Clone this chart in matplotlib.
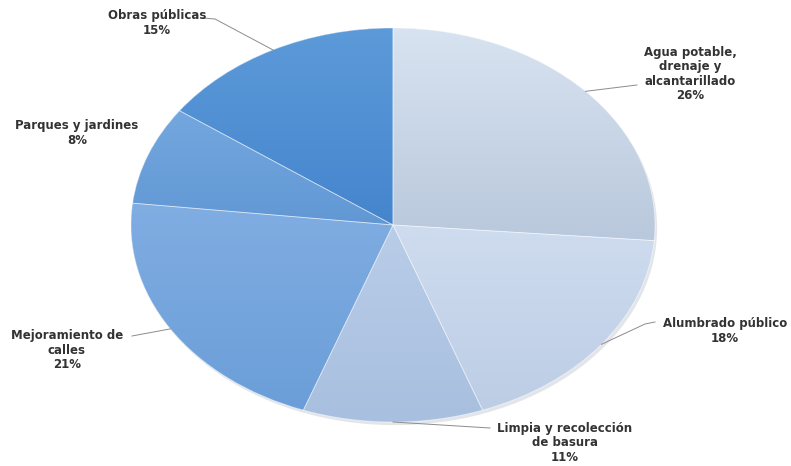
import numpy as np
import matplotlib
matplotlib.use("Agg")
import matplotlib.pyplot as plt
from matplotlib.colors import to_rgb

# ---- data ----
categories = ["Agua potable,\ndrenaje y\nalcantarillado", "Alumbrado público",
              "Limpia y recolección\nde basura", "Mejoramiento de\ncalles",
              "Parques y jardines", "Obras públicas"]
values = [26, 18, 11, 21, 8, 15]
pct_labels = ["26%", "18%", "11%", "21%", "8%", "15%"]

# gradient colours (top, bottom) per slice
col_top = ["#d8e3f1", "#cfdcef", "#b9cde8", "#80ade2", "#74a7df", "#5c9ad9"]
col_bot = ["#b9c8dc", "#bccde5", "#a8bfdf", "#6b9ed8", "#6198d4", "#4585cd"]

# label positions in pixel coords (x from left, y from top)
label_px = [(690, 74), (725, 331), (565, 443), (67, 350), (77, 133), (157, 23)]
elbow_px = [(637, 85), (645, 324), (490, 428), (132, 336), None, (215, 19)]
end_px = [(637, 85), (655, 322), (490, 428), (132, 336), None, (203, 18)]

W, H = 791, 466
fig = plt.figure(figsize=(W / 100, H / 100), dpi=100)
ax = fig.add_axes([0, 0, 1, 1])

cx, cy = 393, 225   # pixel centre
rx, ry = 262, 197   # pixel radii

wedges, _ = ax.pie(values, startangle=90, counterclock=False,
                   radius=1, center=(0, 0),
                   wedgeprops=dict(edgecolor=(1, 1, 1, 0.5), linewidth=0.6))
ax.set_aspect("auto")
xmin = -cx / rx
xmax = (W - cx) / rx
ymin = -(H - cy) / ry
ymax = cy / ry
ax.set_xlim(xmin, xmax)
ax.set_ylim(ymin, ymax)
ax.axis("off")


def px2d(p):
    return (p[0] - cx) / rx, (cy - p[1]) / ry


# shadow
sh = matplotlib.patches.Ellipse((0.008, -0.016), 2.0, 2.0, facecolor="#9aa4b0",
                                alpha=0.28, zorder=0.5, edgecolor="none")
ax.add_patch(sh)

# gradient fills
for i, w in enumerate(wedges):
    w.set_zorder(1)
    path = w.get_path()
    verts = w.get_transform().transform(path.vertices)
    verts = ax.transData.inverted().transform(verts)
    y0, y1 = verts[:, 1].min(), verts[:, 1].max()
    x0, x1 = verts[:, 0].min(), verts[:, 0].max()
    n = 64
    t = np.linspace(0, 1, n)[:, None]
    c0 = np.array(to_rgb(col_top[i]))
    c1 = np.array(to_rgb(col_bot[i]))
    img = (c0 * (1 - t) + c1 * t)[:, None, :].repeat(2, axis=1)
    w.set_facecolor(col_top[i])
    im = ax.imshow(img, extent=(x0, x1, y0, y1), origin="upper",
                   aspect="auto", zorder=1.5, interpolation="bilinear")
    im.set_clip_path(w)
    ax.set_xlim(xmin, xmax)
    ax.set_ylim(ymin, ymax)

# separators on top
for w in wedges:
    p = matplotlib.patches.Wedge(w.center, w.r, w.theta1, w.theta2,
                                 facecolor="none", edgecolor=(1, 1, 1, 0.45),
                                 linewidth=0.6, zorder=2)
    ax.add_patch(p)

# labels + leader lines
total = sum(values)
cum = 0
for i, v in enumerate(values):
    mid = 90 - (cum + v / 2) / total * 360
    cum += v
    ex, ey = np.cos(np.radians(mid)), np.sin(np.radians(mid))
    if elbow_px[i] is not None:
        bx, by = px2d(elbow_px[i])
        tx, ty = px2d(end_px[i])
        ax.plot([ex, bx, tx], [ey, by, ty], color="#8c8c8c", lw=0.7, zorder=3)
    lx, ly = px2d(label_px[i])
    ax.text(lx, ly, categories[i] + "\n" + pct_labels[i], ha="center", va="center",
            fontsize=8.5, fontweight="bold", family="DejaVu Sans", color="#333333",
            linespacing=1.15, zorder=4)

fig.savefig("out.png", dpi=100)
